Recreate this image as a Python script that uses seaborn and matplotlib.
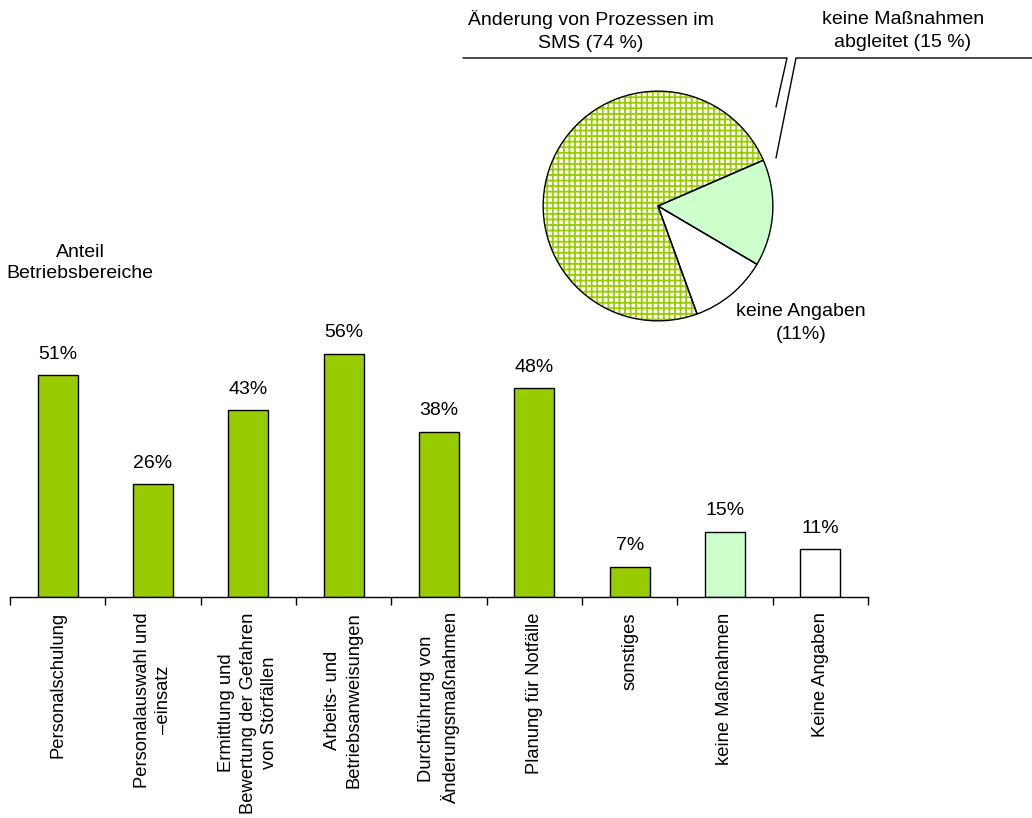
import matplotlib
matplotlib.use("Agg")
import matplotlib.pyplot as plt
from matplotlib.lines import Line2D
import seaborn as sns
import pandas as pd

categories = [
    "Personalschulung",
    "Personalauswahl und\n–einsatz",
    "Ermittlung und\nBewertung der Gefahren\nvon Störfällen",
    "Arbeits- und\nBetriebsanweisungen",
    "Durchführung von\nÄnderungsmaßnahmen",
    "Planung für Notfälle",
    "sonstiges",
    "keine Maßnahmen",
    "Keine Angaben",
]
values = [51, 26, 43, 56, 38, 48, 7, 15, 11]
bar_colors = ["#99CC00"] * 7 + ["#CCFFCC", "#FFFFFF"]

pie_labels = ["keine Maßnahmen\nabgleitet (15 %)", "keine Angaben\n(11%)", "Änderung von Prozessen im\nSMS (74 %)"]
pie_values = [15, 11, 74]
pie_colors = ["#CCFFCC", "#FFFFFF", "#FFFFFF"]

sns.set_theme(style="white")
plt.rcParams["font.family"] = ["Liberation Sans", "DejaVu Sans"]
plt.rcParams["text.color"] = "black"
plt.rcParams["xtick.color"] = "black"
plt.rcParams["hatch.linewidth"] = 1.3

FS = 14
W, H = 1032, 818
fig = plt.figure(figsize=(W / 100, H / 100), dpi=100)

def fx(px):
    return px / W

def fy(py):
    return 1 - py / H

# ---- bar chart ----
ax = fig.add_axes([fx(10), fy(597), fx(868) - fx(10), fy(597 - 60 * 4.345) - fy(597)])
df = pd.DataFrame({"cat": categories, "val": values})
sns.barplot(data=df, x="cat", y="val", hue="cat", palette=bar_colors, width=0.42,
            edgecolor="black", linewidth=1.0, legend=False, ax=ax, saturation=1)
ax.set_ylim(0, 60)
ax.set_xlim(-0.5, len(categories) - 0.5)
for s in ["top", "right", "left"]:
    ax.spines[s].set_visible(False)
ax.spines["bottom"].set_color("black")
ax.spines["bottom"].set_linewidth(1.0)
ax.set_yticks([])
ax.set_ylabel("")
ax.set_xlabel("")
ax.set_xticks(range(len(categories)))
ax.set_xticklabels(categories, rotation=90, fontsize=13.2, ha="center", va="top",
                   multialignment="center", linespacing=1.35, color="black")
ax.tick_params(axis="x", length=0, pad=11)
# boundary ticks
ax.set_xticks([i - 0.5 for i in range(len(categories) + 1)], minor=True)
ax.tick_params(axis="x", which="minor", length=6, width=1, color="black", direction="out", bottom=True)
for cont in ax.containers:
    ax.bar_label(cont, labels=[f"{v:.0f}%" for v in cont.datavalues], padding=9,
                 fontsize=FS, color="black")

fig.text(fx(80), fy(263), "Anteil\nBetriebsbereiche", ha="center", va="center",
         fontsize=FS, linespacing=1.35)

# ---- pie chart ----
cx, cy, r = 658, 206, 116
pax = fig.add_axes([fx(cx - r), fy(cy + r), fx(2 * r), fy(cy - r) - fy(cy + r)])
wedges, _ = pax.pie(pie_values, colors=pie_colors, startangle=23.5, counterclock=False,
                    wedgeprops=dict(linewidth=0))
wedges[2].set_edgecolor("#99CC00")
wedges[2].set_hatch("+++")
wedges[2].set_linewidth(0)
pax.pie(pie_values, startangle=23.5, counterclock=False,
        wedgeprops=dict(fill=False, edgecolor="black", linewidth=1.0))
pax.set_xlim(-1.01, 1.01)
pax.set_ylim(-1.01, 1.01)
pax.set_aspect("equal")
pax.axis("off")

# callout labels
fig.text(fx(591), fy(31), pie_labels[2], ha="center", va="center", fontsize=FS, linespacing=1.45)
fig.text(fx(903), fy(31), pie_labels[0], ha="center", va="center", fontsize=FS, linespacing=1.45)
fig.text(fx(801), fy(323), pie_labels[1], ha="center", va="center", fontsize=FS, linespacing=1.45)

for xs, ys in [([463, 787, 776], [58, 58, 107]), ([1032, 796, 776], [58, 58, 158])]:
    fig.add_artist(Line2D([fx(x) for x in xs], [fy(y) for y in ys], color="black", linewidth=1.0))

fig.savefig("out.png", dpi=100, facecolor="white")
